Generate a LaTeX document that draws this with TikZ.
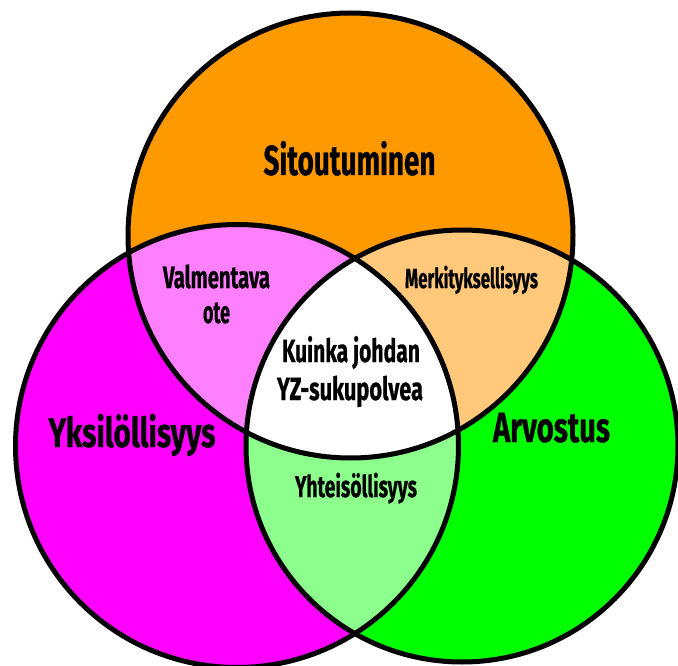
\documentclass[tikz,border=0pt]{standalone}
\usepackage{fontspec}
\usepackage{graphicx}
\setmainfont{Fira Sans}[BoldFeatures={FakeBold=0.8}]
\definecolor{sitoutC}{HTML}{FF9900}
\definecolor{yksiC}{HTML}{FF00FF}
\definecolor{arvoC}{HTML}{00FF00}
\definecolor{yksiSitoutC}{HTML}{FF80FF}
\definecolor{sitoutArvoC}{HTML}{FFC87A}
\definecolor{yksiArvoC}{HTML}{8CFF8C}
% condensed bold label: font size, target width, text
\newcommand\vennlabel[3]{\resizebox{#2}{\height}{\fontsize{#1}{#1}\selectfont\bfseries #3}}
\begin{document}
\begin{tikzpicture}[x=1pt,y=-1pt,
    ring/.style={line width=5pt,draw=black},
    lbl/.style={anchor=base,inner sep=0pt,text=black,align=center}]
\useasboundingbox (0,0) rectangle (678,666);
\fill[white] (0,0) rectangle (678,666);

\coordinate (cS) at (350.5,235.5);
\coordinate (cY) at (237,446);
\coordinate (cA) at (462,446);
\def\rS{222.5pt}
\def\rY{221.5pt}
\def\rA{216pt}

% base fills
\fill[sitoutC] (cS) circle[radius=\rS];
\fill[yksiC] (cY) circle[radius=\rY];
\fill[arvoC] (cA) circle[radius=\rA];

% pairwise overlaps
\begin{scope}
  \clip (cS) circle[radius=\rS];
  \fill[yksiSitoutC] (cY) circle[radius=\rY];
\end{scope}
\begin{scope}
  \clip (cS) circle[radius=\rS];
  \fill[sitoutArvoC] (cA) circle[radius=\rA];
\end{scope}
\begin{scope}
  \clip (cY) circle[radius=\rY];
  \fill[yksiArvoC] (cA) circle[radius=\rA];
\end{scope}
% centre overlap
\begin{scope}
  \clip (cS) circle[radius=\rS];
  \clip (cY) circle[radius=\rY];
  \fill[white] (cA) circle[radius=\rA];
\end{scope}

% outlines
\draw[ring] (cS) circle[radius=\rS];
\draw[ring] (cY) circle[radius=\rY];
\draw[ring] (cA) circle[radius=\rA];

% labels
\node[lbl] (sitout) at (349.5,175) {\vennlabel{42}{172pt}{Sitoutuminen}};
\node[lbl] (yksi) at (132,447) {\vennlabel{41}{167pt}{Yksilöllisyys}};
\node[lbl] (arvo) at (551.5,442) {\vennlabel{42}{117pt}{Arvostus}};
\node[lbl] (valm1) at (216.5,288) {\vennlabel{31}{107pt}{Valmentava}};
\node[lbl] (valm2) at (216.5,323) {\vennlabel{31}{27pt}{ote}};
\node[lbl] (merk) at (471.5,288) {\vennlabel{27.5}{133pt}{Merkityksellisyys}};
\node[lbl] (kuinka1) at (351,362) {\vennlabel{32}{138pt}{Kuinka johdan}};
\node[lbl] (kuinka2) at (350,400) {\vennlabel{32}{146pt}{YZ-sukupolvea}};
\node[lbl] (yhteis) at (356,497) {\vennlabel{30}{122pt}{Yhteisöllisyys}};
\end{tikzpicture}
\end{document}
